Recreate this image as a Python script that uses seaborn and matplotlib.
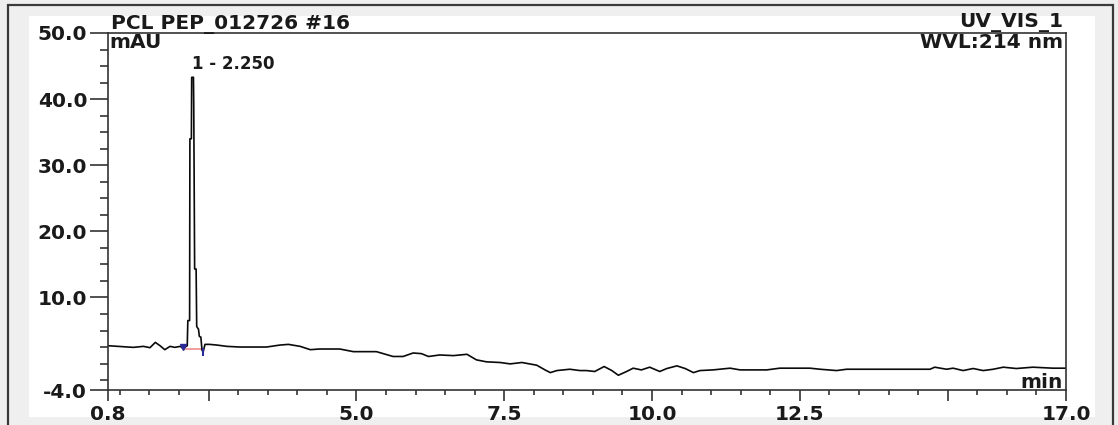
import matplotlib
matplotlib.use("Agg")
import matplotlib.pyplot as plt
from matplotlib.patches import Rectangle
from matplotlib.ticker import FixedLocator
import numpy as np
import pandas as pd
import seaborn as sns

# ---------------- data ----------------
time_min = [0.80, 1.14, 1.23, 1.40, 1.51, 1.60, 1.68, 1.76, 1.85, 1.93, 2.02, 2.07, 2.14,
            2.15, 2.18, 2.185, 2.21, 2.215, 2.245, 2.25, 2.265, 2.29, 2.30, 2.33, 2.345,
            2.37, 2.39, 2.41, 2.44, 2.52, 2.64, 2.81, 3.03, 3.48, 3.71, 3.85, 4.05, 4.22,
            4.38, 4.72, 4.95, 5.34, 5.62, 5.79, 5.96, 6.10, 6.22, 6.41, 6.64, 6.87, 7.03,
            7.20, 7.43, 7.60, 7.80, 8.05, 8.19, 8.28, 8.39, 8.61, 8.78, 8.89, 9.03, 9.19,
            9.32, 9.43, 9.57, 9.68, 9.82, 9.96, 10.13, 10.25, 10.42, 10.56, 10.70, 10.81,
            11.03, 11.32, 11.49, 11.94, 12.16, 12.67, 12.84, 13.12, 13.29, 14.70, 14.78,
            14.98, 15.09, 15.26, 15.43, 15.60, 15.77, 15.94, 16.16, 16.44, 16.78, 17.00]
signal_mau = [2.7, 2.5, 2.45, 2.6, 2.4, 3.2, 2.7, 2.1, 2.6, 2.45, 2.6, 2.3, 2.7,
              6.5, 6.5, 34.0, 34.0, 43.3, 43.3, 39.0, 14.3, 14.3, 5.6, 5.2, 4.1,
              4.0, 2.0, 1.8, 2.9, 2.9, 2.8, 2.6, 2.5, 2.5, 2.8, 2.9, 2.6, 2.1,
              2.2, 2.2, 1.8, 1.8, 1.07, 1.07, 1.6, 1.5, 1.07, 1.3, 1.2, 1.4, 0.56,
              0.26, 0.16, -0.05, 0.16, -0.25, -0.96, -1.37, -1.06, -0.86, -1.06, -1.06, -1.2, -0.45,
              -1.06, -1.77, -1.2, -0.7, -0.96, -0.55, -1.2, -0.75, -0.35, -0.75, -1.37, -1.06,
              -0.96, -0.7, -0.96, -0.96, -0.7, -0.7, -0.86, -1.06, -0.86, -0.86, -0.55,
              -0.86, -0.7, -1.06, -0.75, -1.06, -0.86, -0.55, -0.75, -0.55, -0.7, -0.7]

peak_label = "1 - 2.250"
peak_time = 2.215
peak_height = 43.3
integ_time = [2.07, 2.41]
integ_level = [2.2, 2.2]

x_major = [0.8, 2.5, 5.0, 7.5, 10.0, 12.5, 15.0, 17.0]
x_labels = ["0.8", "", "5.0", "7.5", "10.0", "12.5", "", "17.0"]
x_minor = [1.0, 1.5, 2.0, 3.0, 3.5, 4.0, 4.5, 5.5, 6.0, 6.5, 7.0, 8.0, 8.5, 9.0, 9.5,
           10.5, 11.0, 11.5, 12.0, 13.0, 13.5, 14.0, 14.5, 15.5, 16.0, 16.5]
y_major = [-4.0, 10.0, 20.0, 30.0, 40.0, 50.0]
y_labels = ["-4.0", "10.0", "20.0", "30.0", "40.0", "50.0"]
y_minor = [-2.5, 0.0, 2.5, 5.0, 7.5, 12.5, 15.0, 17.5, 22.5, 25.0, 27.5, 32.5, 35.0,
           37.5, 42.5, 45.0, 47.5]

title_left = "PCL PEP_012726 #16"
title_right = "UV_VIS_1"
y_unit = "mAU"
wavelength = "WVL:214 nm"
x_unit = "min"

# ---------------- figure ----------------
sns.set_style("white")
plt.rcParams["font.family"] = ["DejaVu Sans"]
W, H = 1118, 425
fig = plt.figure(figsize=(W / 100, H / 100), dpi=100, facecolor="#efefef")

# white page area and outer border (behind the axes)
fig.patches.append(Rectangle((29 / W, 1 - 417 / H), (1095 - 29) / W, (417 - 16) / H,
                             transform=fig.transFigure, facecolor="white",
                             edgecolor="none", zorder=-10))
fig.patches.append(Rectangle((8 / W, -0.05), (1113 - 8) / W, 1.05 - 5 / H,
                             transform=fig.transFigure, facecolor="none",
                             edgecolor="#3a3a3a", linewidth=1.6, zorder=-9))

ax = fig.add_axes([108 / W, 1 - 390 / H, (1066 - 108) / W, (390 - 33) / H])
ax.set_zorder(5)
ax.set_facecolor("white")

df = pd.DataFrame({"time": time_min, "signal": signal_mau})
sns.lineplot(data=df, x="time", y="signal", ax=ax, color="#0a0a0a", linewidth=1.2,
             estimator=None, sort=False)

# integration baseline and delimiters
ax.plot(integ_time, integ_level, color="#f08c8c", linewidth=1.2, zorder=1)
ax.plot([integ_time[0]], [integ_level[0] + 0.3], marker="v", color="#2a2a9a",
        markersize=4, linestyle="none")
ax.plot([integ_time[1]], [integ_level[1] - 0.4], marker="|", color="#2a2a9a",
        markersize=6, markeredgewidth=1.5, linestyle="none")

ax.set_xlim(x_major[0], x_major[-1])
ax.set_ylim(y_major[0], y_major[-1])
ax.set_xlabel("")
ax.set_ylabel("")

ax.xaxis.set_major_locator(FixedLocator(x_major))
ax.set_xticklabels(x_labels)
ax.xaxis.set_minor_locator(FixedLocator(x_minor))
ax.yaxis.set_major_locator(FixedLocator(y_major))
ax.set_yticklabels(y_labels)
ax.yaxis.set_minor_locator(FixedLocator(y_minor))

fs = 14.5
ax.tick_params(axis="y", which="major", direction="out", length=13, width=1.1,
               color="#222222", pad=2, labelsize=fs, left=True)
ax.tick_params(axis="y", which="minor", direction="out", length=6, width=1.1,
               color="#222222", left=True)
ax.tick_params(axis="x", which="major", direction="out", length=8, width=1.1,
               color="#222222", pad=2.5, labelsize=fs, bottom=True)
ax.tick_params(axis="x", which="minor", direction="out", length=3.6, width=1.1,
               color="#222222", bottom=True)
for lab in ax.get_xticklabels() + ax.get_yticklabels():
    lab.set_fontweight("bold")
    lab.set_color("#1a1a1a")

for sp in ax.spines.values():
    sp.set_visible(True)
    sp.set_color("#333333")
    sp.set_linewidth(1.2)

tkw = dict(fontsize=fs, fontweight="bold", color="#1a1a1a", textcoords="offset points",
           xycoords="axes fraction", annotation_clip=False)
ax.annotate(title_left, xy=(0, 1), xytext=(2, 3), ha="left", va="baseline", **tkw)
ax.annotate(title_right, xy=(1, 1), xytext=(-2, 4), ha="right", va="baseline", **tkw)
ax.annotate(y_unit, xy=(0, 1), xytext=(1, -11), ha="left", va="baseline", **tkw)
ax.annotate(wavelength, xy=(1, 1), xytext=(-2, -10.5), ha="right", va="baseline", **tkw)
ax.annotate(x_unit, xy=(1, 0), xytext=(-2, 1.5), ha="right", va="baseline", **tkw)

ax.annotate(peak_label, xy=(peak_time, peak_height), xytext=(0, 3),
            textcoords="offset points", ha="left", va="bottom",
            fontsize=12, fontweight="bold", color="#1a1a1a")

fig.savefig("out.png", dpi=100, facecolor=fig.get_facecolor())
